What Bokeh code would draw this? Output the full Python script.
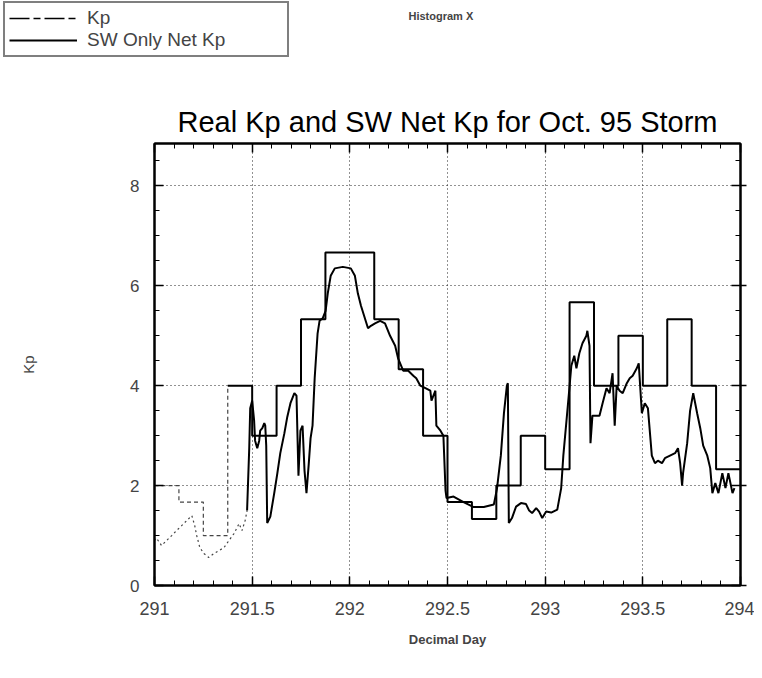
from bokeh.plotting import figure
from bokeh.layouts import column
from bokeh.models import (Range1d, LinearAxis, FixedTicker, Legend, LegendItem, Label, Grid)
from bokeh.embed import file_html
from bokeh.resources import INLINE
import numpy as np

# ---------------- data ----------------
# Kp : 3-hour index, bin edges (decimal day) and values
kp_edges = [291.0, 291.125, 291.25, 291.375, 291.5, 291.625, 291.75, 291.875,
            292.0, 292.125, 292.25, 292.375, 292.5, 292.625, 292.75, 292.875,
            293.0, 293.125, 293.25, 293.375, 293.5, 293.625, 293.75, 293.875, 294.0]
kp_values = [2.0, 1.67, 1.0, 4.0, 3.0, 4.0, 5.33, 6.67,
             6.67, 5.33, 4.33, 3.0, 1.67, 1.33, 2.0, 3.0,
             2.33, 5.67, 4.0, 5.0, 4.0, 5.33, 4.0, 2.33]

# SW Only Net Kp (early, faintly printed part)
sw_early_day = [291.000, 291.010, 291.036, 291.062, 291.088, 291.113, 291.139, 291.165,
                291.191, 291.206, 291.216, 291.232, 291.253, 291.278, 291.304, 291.330,
                291.356, 291.381, 291.407, 291.433, 291.448, 291.464, 291.474]
sw_early_val = [0.90, 0.95, 0.80, 0.90, 1.00, 1.10, 1.20, 1.30,
                1.40, 1.20, 1.00, 0.76, 0.64, 0.56, 0.64, 0.70,
                0.76, 0.90, 1.04, 1.24, 1.10, 1.30, 1.50]

# SW Only Net Kp (main part)
sw_day = [291.474, 291.485, 291.490, 291.500, 291.510, 291.515, 291.526, 291.536, 291.541,
          291.552, 291.562, 291.567, 291.572, 291.577, 291.593, 291.613, 291.629, 291.644,
          291.665, 291.680, 291.696, 291.716, 291.727, 291.737, 291.747, 291.758, 291.768,
          291.778, 291.789, 291.799, 291.809, 291.820, 291.835, 291.845, 291.861, 291.876,
          291.887, 291.902, 291.923, 291.964, 292.005, 292.026, 292.041, 292.057, 292.077,
          292.093, 292.108, 292.129, 292.155, 292.180, 292.206, 292.232, 292.247, 292.273,
          292.299, 292.325, 292.340, 292.361, 292.387, 292.412, 292.418, 292.438, 292.443,
          292.464, 292.479, 292.490, 292.495, 292.531, 292.582, 292.634, 292.686, 292.737,
          292.753, 292.773, 292.789, 292.804, 292.809, 292.814, 292.830, 292.851, 292.876,
          292.902, 292.918, 292.933, 292.954, 292.969, 292.985, 293.005, 293.031, 293.062,
          293.082, 293.093, 293.108, 293.124, 293.134, 293.149, 293.160, 293.175, 293.191,
          293.211, 293.216, 293.227, 293.232, 293.242, 293.263, 293.278, 293.294, 293.314,
          293.330, 293.345, 293.356, 293.366, 293.381, 293.397, 293.418, 293.433, 293.448,
          293.469, 293.479, 293.495, 293.510, 293.526, 293.546, 293.562, 293.577, 293.598,
          293.613, 293.639, 293.665, 293.680, 293.691, 293.701, 293.706, 293.727, 293.742,
          293.758, 293.778, 293.794, 293.809, 293.830, 293.845, 293.856, 293.871, 293.887,
          293.907, 293.923, 293.938, 293.959, 293.969]
sw_val = [1.50, 2.75, 3.55, 3.70, 3.30, 2.90, 2.75, 2.90, 3.10,
          3.15, 3.25, 3.20, 2.80, 1.25, 1.38, 1.85, 2.25, 2.65,
          3.05, 3.38, 3.65, 3.85, 3.80, 2.20, 3.10, 3.20, 2.30,
          1.85, 2.40, 2.95, 3.20, 4.15, 5.05, 5.30, 5.35, 5.50,
          5.85, 6.20, 6.35, 6.38, 6.35, 6.20, 5.85, 5.60, 5.35,
          5.15, 5.20, 5.25, 5.30, 5.25, 5.00, 4.80, 4.55, 4.30,
          4.30, 4.20, 4.15, 4.00, 3.95, 3.90, 3.70, 3.90, 3.20,
          3.10, 3.00, 1.90, 1.75, 1.78, 1.67, 1.57, 1.57, 1.62,
          1.93, 2.60, 3.45, 4.00, 4.05, 1.25, 1.35, 1.58, 1.65,
          1.63, 1.50, 1.45, 1.55, 1.48, 1.35, 1.48, 1.46, 1.52,
          1.95, 2.60, 3.25, 3.95, 4.40, 4.60, 4.35, 4.65, 4.85,
          5.00, 5.10, 4.80, 2.85, 3.40, 3.40, 3.40, 3.65, 3.95,
          3.85, 4.25, 3.20, 4.00, 3.90, 3.85, 4.05, 4.15, 4.20,
          4.35, 4.45, 3.45, 3.65, 3.55, 2.60, 2.45, 2.50, 2.45,
          2.55, 2.60, 2.65, 2.75, 2.45, 2.00, 2.25, 2.85, 3.50,
          3.85, 3.45, 3.15, 2.80, 2.60, 2.35, 1.85, 2.05, 1.85,
          2.25, 1.95, 2.25, 1.85, 1.95]

x_ticks = [291, 291.5, 292, 292.5, 293, 293.5, 294]
x_tick_labels = ["291", "291.5", "292", "292.5", "293", "293.5", "294"]
y_ticks = [0, 2, 4, 6, 8]

FONT = "Liberation Sans"

# ---------------- step coordinates for Kp ----------------
def step_xy(edges, vals):
    xs, ys = [], []
    for i, v in enumerate(vals):
        xs += [edges[i], edges[i + 1]]
        ys += [v, v]
    return xs, ys

n_early = 3
kx_e, ky_e = step_xy(kp_edges[:n_early + 1], kp_values[:n_early])
kx_e.append(kp_edges[n_early]); ky_e.append(kp_values[n_early])
kx_m, ky_m = step_xy(kp_edges[n_early:], kp_values[n_early:])

W = 754
HEAD_H = 60

# ---------------- header (legend + caption) ----------------
h = figure(width=W, height=HEAD_H, x_range=Range1d(0, W), y_range=Range1d(0, HEAD_H),
           output_backend="svg", toolbar_location=None, min_border=0,
           x_axis_type=None, y_axis_type=None, title=None)
h.frame_align = False
h.outline_line_color = None
h.xgrid.visible = False
h.ygrid.visible = False
leg_kp = h.line(x=[np.nan], y=[np.nan], line_color="black", line_width=1.5,
                line_dash="20 4 7 4")
leg_sw = h.line(x=[np.nan], y=[np.nan], line_color="black", line_width=1.8)
legend = Legend(items=[LegendItem(label="Kp", renderers=[leg_kp]),
                       LegendItem(label="SW Only Net Kp", renderers=[leg_sw])],
                location=(3, 3))
legend.border_line_color = "black"
legend.border_line_width = 2
legend.background_fill_color = "white"
legend.background_fill_alpha = 1
legend.label_text_font = FONT
legend.label_text_font_size = "19px"
legend.glyph_width = 68
legend.glyph_height = 18
legend.label_height = 18
legend.label_width = 196
legend.label_standoff = 10
legend.spacing = 0
legend.padding = 4
legend.margin = 0
h.add_layout(legend, "center")
h.add_layout(Label(x=408, y=45, text="Histogram X", text_font=FONT,
                   text_font_size="11px", text_font_style="bold",
                   text_baseline="middle", text_align="left"))

# ---------------- main figure ----------------
p = figure(width=W, height=670 - HEAD_H, x_range=Range1d(291, 294), y_range=Range1d(0, 8.85),
           output_backend="svg", toolbar_location=None,
           min_border_left=154, min_border_right=14, min_border_top=143 - HEAD_H,
           min_border_bottom=85, x_axis_type=None, y_axis_type=None)
p.frame_align = False
p.outline_line_color = "black"
p.outline_line_width = 2
p.background_fill_color = "white"
p.border_fill_color = "white"

x_minor = [float(v) for v in np.round(np.arange(291.0, 294.0001, 0.1), 2)]
y_minor = [float(v) for v in np.arange(0, 8.85, 0.5)]
xt = FixedTicker(ticks=x_ticks, minor_ticks=x_minor)
yt = FixedTicker(ticks=y_ticks, minor_ticks=y_minor)

def style(ax, show_labels):
    ax.axis_line_width = 2
    ax.axis_line_color = "black"
    ax.major_tick_line_width = 1.5
    ax.major_tick_line_color = "black"
    ax.minor_tick_line_color = "black"
    ax.minor_tick_line_width = 1
    ax.major_tick_in = 9
    ax.major_tick_out = 0
    ax.minor_tick_in = 5
    ax.minor_tick_out = 0
    if not show_labels:
        ax.major_label_text_font_size = "0px"
        ax.major_label_standoff = 0

xb = LinearAxis(ticker=xt, axis_label="Decimal Day")
style(xb, True)
xb.major_label_overrides = {float(t): lab for t, lab in zip(x_ticks, x_tick_labels)}
xb.major_label_text_font = FONT
xb.major_label_text_font_size = "18px"
xb.major_label_standoff = 16
xb.axis_label_text_font = FONT
xb.axis_label_text_font_size = "13px"
xb.axis_label_text_font_style = "bold"
xb.axis_label_standoff = 14
p.add_layout(xb, "below")

yl = LinearAxis(ticker=yt, axis_label="Kp")
style(yl, True)
yl.major_label_text_font = FONT
yl.major_label_text_font_size = "17px"
yl.major_label_standoff = 15
yl.axis_label_text_font = FONT
yl.axis_label_text_font_size = "15px"
yl.axis_label_text_font_style = "normal"
yl.axis_label_standoff = 90
p.add_layout(yl, "left")

yr = LinearAxis(ticker=yt)
style(yr, False)
yr.major_tick_out = 6
p.add_layout(yr, "right")

xa = LinearAxis(ticker=xt)
style(xa, False)
p.add_layout(xa, "above")

p.add_layout(Grid(dimension=0, ticker=xt, grid_line_color="#222", grid_line_dash="1 3",
                  grid_line_width=1))
p.add_layout(Grid(dimension=1, ticker=yt, grid_line_color="#222", grid_line_dash="1 3",
                  grid_line_width=1))

# title
p.title.text = "Real Kp and SW Net Kp for Oct. 95 Storm"
p.title.text_font = FONT
p.title.text_font_size = "29px"
p.title.text_font_style = "normal"
p.title.text_color = "black"
p.title.align = "center"
p.title.standoff = 12

# ---------------- series ----------------
p.line(kx_e, ky_e, line_color="#444", line_width=1.2, line_dash="4 3")
p.line(kx_m, ky_m, line_color="black", line_width=2)
p.line(sw_early_day, sw_early_val, line_color="#444", line_width=1.2, line_dash="2 3")
p.line(sw_day, sw_val, line_color="black", line_width=2)

open("out.html", "w").write(file_html(column(h, p, spacing=0), INLINE))
